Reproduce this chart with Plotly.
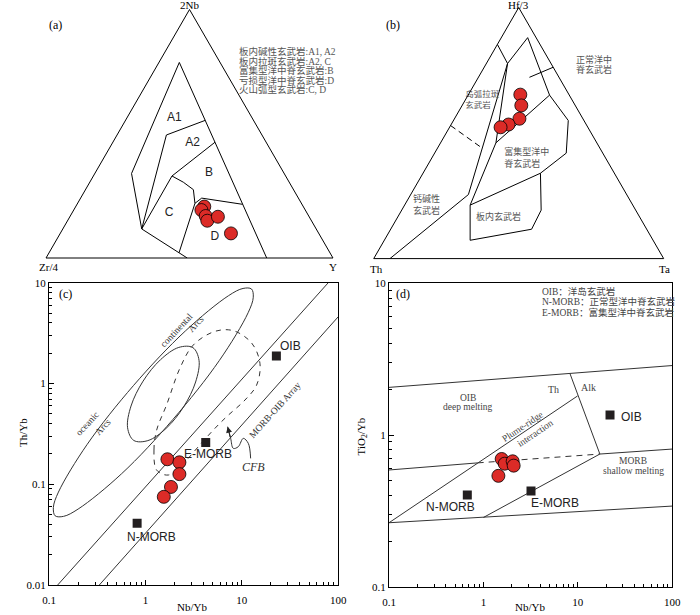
import numpy as np
import plotly.graph_objects as go

W, H = 700, 615
SERIF = "Liberation Serif, Noto Sans CJK SC, serif"
SANS = "Liberation Sans, Arial, sans-serif"
RED = "#dc2b27"
SQ = "#231f20"

# ===================== DATA =====================
# (a) Zr/4 - 2Nb - Y  (percent of the three components)
A_2NB = [20.7, 19.3, 16.9, 15.0, 16.6, 9.9]
A_ZR4 = [34.5, 36.2, 35.9, 36.3, 31.8, 30.6]
A_Y = [44.8, 44.5, 47.2, 48.7, 51.6, 59.5]
# field boundaries of (a): vertices (2Nb, Zr/4, Y)
A_BOUND_RIGHT = [(78.7, 14.2, 7.1), (0.0, 23.1, 76.9)]
A_BOUND_LEFT = [(78.7, 14.2, 7.1), (34.0, 53.2, 12.8), (11.7, 60.8, 27.5), (0.0, 50.8, 49.2)]
A_BOUND_A1A2 = [(49.5, 33.3, 17.2), (55.4, 16.8, 27.8)]
A_BOUND_A1 = [(49.5, 33.3, 17.2), (11.7, 60.8, 27.5)]
A_BOUND_A2B = [(33.0, 39.6, 27.4), (46.6, 17.8, 35.6)]
A_BOUND_C = [(33.0, 39.6, 27.4), (11.7, 60.8, 27.5)]
A_BOUND_CB = [(33.0, 39.6, 27.4), (30.5, 36.9, 32.6), (27.5, 34.9, 37.6), (22.0, 37.1, 40.9)]
A_BOUND_BD = [(22.0, 37.1, 40.9), (24.1, 33.7, 42.2), (21.6, 20.7, 57.7)]
A_BOUND_CD = [(22.0, 37.1, 40.9), (2.1, 52.6, 45.3)]
A_FIELDS = ["A1", "A2", "B", "C", "D"]
A_FIELD_AT = [(56.4, 27.1, 16.5), (46.4, 25.7, 27.9), (34.4, 26.0, 39.6), (18.2, 48.0, 33.8), (8.3, 37.0, 54.7)]
A_LEGEND = ["板内碱性玄武岩:A1, A2", "板内拉斑玄武岩:A2, C", "富集型洋中脊玄武岩:B",
            "亏损型洋中脊玄武岩:D", "火山弧型玄武岩:C, D"]

# (b) Th - Hf/3 - Ta
B_HF3 = [65.3, 61.0, 55.7, 53.4, 52.3]
B_TH = [16.8, 18.6, 21.9, 26.8, 30.1]
B_TA = [17.9, 20.4, 22.4, 19.8, 17.6]
# field boundaries of (b): vertices (Hf/3, Th, Ta)
B_BOUND_CAB = [(0.0, 94.4, 5.6), (25.5, 54.6, 19.9), (77.7, 15.0, 7.3)]
B_BOUND_TOP = [(85.3, 14.7, 0.0), (77.7, 15.0, 7.3)]
B_BOUND_NMORB = [(77.7, 15.0, 7.3), (88.0, 2.9, 9.1), (65.1, 6.8, 28.1), (46.1, 34.8, 19.1), (77.7, 15.0, 7.3)]
B_BOUND_EMORB = [(65.1, 6.8, 28.1), (55.0, 5.4, 39.6), (42.0, 12.6, 45.4), (34.0, 25.5, 40.5)]
B_BOUND_ELEFT = [(46.1, 34.8, 19.1), (21.3, 56.1, 22.6)]
B_BOUND_WPB = [(34.0, 25.5, 40.5), (19.3, 32.6, 48.1), (11.7, 39.7, 48.6), (7.3, 63.1, 29.6),
               (21.3, 56.1, 22.6), (34.0, 25.5, 40.5)]
B_BOUND_DASH = [(53.0, 47.0, 0.0), (44.0, 40.6, 15.4)]
B_LEADER = [(72.2, 10.2, 17.6), (77.7, -3.8, 26.1)]
B_FIELDS = ["岛弧拉斑<br>玄武岩", "富集型洋中<br>脊玄武岩", "钙碱性<br>玄武岩", "板内玄武岩"]
B_FIELD_AT = [(62.9, 37.0, 0.1), (39.9, 35.0, 25.1), (21.1, 75.9, 3.0), (16.1, 56.7, 27.2)]
B_NMORB_LABEL = ["正常洋中", "脊玄武岩"]

# (c) Nb/Yb - Th/Yb
C_NBYB = [1.69, 2.25, 2.25, 1.84, 1.55]
C_THYB = [0.177, 0.165, 0.126, 0.094, 0.075]
REF_NAMES = ["N-MORB", "E-MORB", "OIB"]
C_REF_NBYB = [0.82, 4.22, 22.8]
C_REF_THYB = [0.041, 0.26, 1.87]
C_ARRAY_UP_X = [0.123, 78.7]
C_ARRAY_UP_Y = [0.01, 10.0]
C_ARRAY_LO_X = [0.3325, 100.0]
C_ARRAY_LO_Y = [0.01, 4.6]
C_ARC_BIG_X = [12.59, 13.13, 11.62, 5.85, 1.93, 0.565, 0.2005, 0.1416, 0.1158, 0.111, 0.1253,
               0.249, 0.755, 2.597, 7.27, 10.29, 12.59]
C_ARC_BIG_Y = [8.66, 7.17, 5.04, 1.694, 0.44, 0.1269, 0.0567, 0.048, 0.0486, 0.0588, 0.0836,
               0.2489, 0.958, 3.32, 7.43, 8.77, 8.66]
C_ARC_SMALL_X = [3.105, 3.596, 3.314, 2.485, 1.637, 1.059, 0.7566, 0.6531, 0.7087, 0.9454,
                 1.434, 2.217, 3.105]
C_ARC_SMALL_Y = [2.268, 1.698, 1.034, 0.585, 0.358, 0.2709, 0.2721, 0.3634, 0.5968, 1.0546,
                 1.722, 2.279, 2.268]
C_CFB_X = [1.307, 1.226, 1.307, 1.66, 2.282, 3.136, 5.26, 8.15, 12.63, 15.4, 14.23, 10.77,
           6.95, 5.055, 3.535, 2.471, 1.727, 1.307]
C_CFB_Y = [0.1383, 0.2185, 0.345, 0.6157, 1.423, 2.407, 3.289, 3.339, 2.519, 1.583, 0.9647,
           0.685, 0.468, 0.345, 0.2358, 0.1611, 0.1234, 0.1383]
C_WIGGLE_X = [12.33, 11.66, 10.35, 9.18, 8.15, 7.65, 7.12]
C_WIGGLE_Y = [0.1805, 0.2544, 0.2852, 0.2358, 0.2269, 0.2852, 0.3723]

# (d) Nb/Yb - TiO2/Yb
D_NBYB = [1.56, 1.68, 2.04, 2.09, 1.44]
D_TIYB = [0.695, 0.647, 0.671, 0.628, 0.538]
D_REF_NBYB = [0.675, 3.19, 21.9]
D_REF_TIYB = [0.402, 0.427, 1.354]
D_TOP_X, D_TOP_Y = [0.1, 100.0], [2.06, 2.87]
D_OIBLOW_X, D_OIBLOW_Y = [0.1, 0.869], [0.588, 0.655]
D_DASH_X, D_DASH_Y = [0.869, 17.1], [0.655, 0.749]
D_BOTTOM_X, D_BOTTOM_Y = [0.1, 100.0], [0.264, 0.340]
D_PLUME_X, D_PLUME_Y = [0.1, 9.94], [0.264, 1.81]
D_THALK_X, D_THALK_Y = [8.25, 17.1], [2.54, 0.749]
D_MORBUP_X, D_MORBUP_Y = [17.1, 100.0], [0.749, 0.808]
D_EMORB_X, D_EMORB_Y = [1.0, 17.1], [0.286, 0.749]

# tick labels
X_TICKS = [0.1, 1, 10, 100]
X_TICKTEXT = ["0.1", "1", "10", "100"]
C_Y_TICKS = [0.01, 0.1, 1, 10]
C_Y_TICKTEXT = ["0.01", "0.1", "1", "10"]
D_Y_TICKS = [0.1, 1, 10]
D_Y_TICKTEXT = ["0.1", "1", "10"]

# ===================== FIGURE =====================
fig = go.Figure()


def tline(pts, sub, dash="solid"):
    a, b, c = zip(*pts)
    fig.add_trace(go.Scatterternary(a=a, b=b, c=c, mode="lines", subplot=sub,
                                    line=dict(color="black", width=1, dash=dash),
                                    cliponaxis=False, showlegend=False, hoverinfo="skip"))


for pts in [A_BOUND_RIGHT, A_BOUND_LEFT, A_BOUND_A1A2, A_BOUND_A1, A_BOUND_A2B,
            A_BOUND_C, A_BOUND_CB, A_BOUND_BD, A_BOUND_CD]:
    tline(pts, "ternary")
fig.add_trace(go.Scatterternary(
    a=[p[0] for p in A_FIELD_AT], b=[p[1] for p in A_FIELD_AT], c=[p[2] for p in A_FIELD_AT],
    mode="text", text=A_FIELDS, subplot="ternary", textposition="middle center",
    textfont=dict(family=SANS, size=12, color="#222"), showlegend=False, hoverinfo="skip"))
fig.add_trace(go.Scatterternary(
    a=A_2NB, b=A_ZR4, c=A_Y, mode="markers", subplot="ternary",
    marker=dict(size=13, color=RED, line=dict(color="black", width=0.8)), showlegend=False))

for pts in [B_BOUND_CAB, B_BOUND_TOP, B_BOUND_NMORB, B_BOUND_EMORB, B_BOUND_ELEFT, B_BOUND_WPB,
            B_LEADER]:
    tline(pts, "ternary2")
tline(B_BOUND_DASH, "ternary2", dash="6px,4px")
fig.add_trace(go.Scatterternary(
    a=[p[0] for p in B_FIELD_AT], b=[p[1] for p in B_FIELD_AT], c=[p[2] for p in B_FIELD_AT],
    mode="text", text=B_FIELDS, subplot="ternary2", textposition="middle right", cliponaxis=False,
    textfont=dict(family=SERIF, size=[8.5, 9, 9, 9], color="#555"), showlegend=False, hoverinfo="skip"))
fig.add_trace(go.Scatterternary(
    a=B_HF3, b=B_TH, c=B_TA, mode="markers", subplot="ternary2",
    marker=dict(size=13, color=RED, line=dict(color="black", width=0.8)), showlegend=False))

# (c)
LC = dict(color="#333", width=1)
fig.add_trace(go.Scatter(x=C_ARRAY_UP_X, y=C_ARRAY_UP_Y, mode="lines", line=LC, xaxis="x", yaxis="y"))
fig.add_trace(go.Scatter(x=C_ARRAY_LO_X, y=C_ARRAY_LO_Y, mode="lines", line=LC, xaxis="x", yaxis="y"))
fig.add_trace(go.Scatter(x=C_ARC_BIG_X, y=C_ARC_BIG_Y, mode="lines",
                         line=dict(color="#333", width=1, shape="spline", smoothing=1.0), xaxis="x", yaxis="y"))
fig.add_trace(go.Scatter(x=C_ARC_SMALL_X, y=C_ARC_SMALL_Y, mode="lines",
                         line=dict(color="#333", width=1, shape="spline", smoothing=1.0), xaxis="x", yaxis="y"))
fig.add_trace(go.Scatter(x=C_CFB_X, y=C_CFB_Y, mode="lines",
                         line=dict(color="#333", width=1, shape="spline", smoothing=1.0, dash="5px,5px"),
                         xaxis="x", yaxis="y"))
fig.add_trace(go.Scatter(x=C_WIGGLE_X, y=C_WIGGLE_Y, mode="lines",
                         line=dict(color="#333", width=1, shape="spline", smoothing=1.0), xaxis="x", yaxis="y"))
fig.add_trace(go.Scatter(x=C_REF_NBYB, y=C_REF_THYB, mode="markers", xaxis="x", yaxis="y",
                         marker=dict(symbol="square", size=9, color=SQ)))
fig.add_trace(go.Scatter(x=C_NBYB, y=C_THYB, mode="markers", xaxis="x", yaxis="y",
                         marker=dict(size=13, color=RED, line=dict(color="black", width=0.8))))

# (d)
for xs, ys in [(D_TOP_X, D_TOP_Y), (D_OIBLOW_X, D_OIBLOW_Y), (D_BOTTOM_X, D_BOTTOM_Y),
               (D_PLUME_X, D_PLUME_Y), (D_THALK_X, D_THALK_Y), (D_MORBUP_X, D_MORBUP_Y),
               (D_EMORB_X, D_EMORB_Y)]:
    fig.add_trace(go.Scatter(x=xs, y=ys, mode="lines", line=LC, xaxis="x2", yaxis="y2"))
fig.add_trace(go.Scatter(x=D_DASH_X, y=D_DASH_Y, mode="lines", line=dict(color="#333", width=1, dash="6px,5px"),
                         xaxis="x2", yaxis="y2"))
fig.add_trace(go.Scatter(x=D_REF_NBYB, y=D_REF_TIYB, mode="markers", xaxis="x2", yaxis="y2",
                         marker=dict(symbol="square", size=9, color=SQ)))
fig.add_trace(go.Scatter(x=D_NBYB, y=D_TIYB, mode="markers", xaxis="x2", yaxis="y2",
                         marker=dict(size=13, color=RED, line=dict(color="black", width=0.8))))

# ---------- axes ----------
TAX = dict(showline=True, linecolor="black", linewidth=1, showgrid=False, ticks="",
           showticklabels=False, min=0, title=dict(text=""))

MINOR_VALS = [m * 10.0 ** e for e in range(-2, 2) for m in range(2, 10)]


def logaxis(domain, rng, tickvals, ticktext, anchor):
    return dict(type="log", domain=domain, range=rng, anchor=anchor,
                showgrid=False, zeroline=False, showline=True, linecolor="black", linewidth=1,
                mirror=True, ticks="inside", ticklen=5, tickwidth=1, tickcolor="black",
                tickmode="array", tickvals=tickvals, ticktext=ticktext,
                tickfont=dict(family=SERIF, size=11, color="black"),
                minor=dict(ticks="inside", ticklen=3, tickwidth=1, tickcolor="black",
                           tickmode="array", tickvals=MINOR_VALS, showgrid=False))


xa = logaxis([49 / W, 338.3 / W], [-1, 2], X_TICKS, X_TICKTEXT, "y")
xa["ticklabelstandoff"] = 5
ya = logaxis([1 - 585 / H, 1 - 282.7 / H], [-2, 1], C_Y_TICKS, C_Y_TICKTEXT, "x")
xa2 = logaxis([389 / W, 672.3 / W], [-1, 2], X_TICKS, X_TICKTEXT, "y2")
xa2["ticklabelstandoff"] = 5
ya2 = logaxis([1 - 586.7 / H, 1 - 283.3 / H], [-1, 1], D_Y_TICKS, D_Y_TICKTEXT, "x2")


def ann(text, x, y, size=11, family=SERIF, color="black", angle=0, xanchor="center"):
    return dict(text=text, x=x / W, y=1 - y / H, xref="paper", yref="paper", showarrow=False,
                xanchor=xanchor, yanchor="middle", textangle=angle,
                font=dict(family=family, size=size, color=color))


anns = [
    ann("(a)", 55, 25, 12), ann("2Nb", 190, 4.5), ann("Zr/4", 48, 267), ann("Y", 333, 267),
    ann("(b)", 393.3, 25, 12), ann("Hf/3", 518.7, 4.5), ann("Th", 376, 269), ann("Ta", 664, 269),
    ann("(c)", 65, 294, 12), ann("(d)", 403.3, 294, 12),
    ann("Th/Yb", 23, 433, angle=-90), ann("Nb/Yb", 191.7, 607),
    ann("TiO<sub>2</sub>/Yb", 361.7, 436.7, angle=-90), ann("Nb/Yb", 530, 607),
    # (b) label outside the triangle
    ann(B_NMORB_LABEL[0], 574, 60, 9, color="#555", xanchor="left"),
    ann(B_NMORB_LABEL[1], 574, 70, 9, color="#555", xanchor="left"),
    # (c) labels
    ann("oceanic", 87, 424, 9.5, color="#333", angle=-47),
    ann("Arcs", 103, 427, 9.5, color="#333", angle=-47),
    ann("continental", 176.7, 329.7, 9.5, color="#333", angle=-47),
    ann("Arcs", 196, 324, 9.5, color="#333", angle=-47),
    ann("MORB-OIB Array", 275, 409.7, 9.5, color="#333", angle=-48),
    ann("<i>CFB</i>", 253.3, 466.7, 12, color="#333"),
    ann("OIB", 290, 346, 12, SANS, "#222"), ann("E-MORB", 208, 454.3, 12, SANS, "#222"),
    ann("N-MORB", 151.7, 537.3, 12, SANS, "#222"),
    # (d) labels
    ann("Th", 553.5, 389, 10, color="#444"), ann("Alk", 588, 387.3, 10, color="#444"),
    ann("OIB", 468, 397.5, 9.5, color="#444"), ann("deep melting", 468, 407, 9.5, color="#444"),
    ann("Plume-ridge", 522, 426.7, 9.5, color="#444", angle=-34),
    ann("interaction", 535.7, 433.3, 9.5, color="#444", angle=-34),
    ann("MORB", 633.3, 461, 9.5, color="#444"), ann("shallow melting", 633.3, 470.5, 9.5, color="#444"),
    ann("OIB", 631, 416.7, 12, SANS, "#222"), ann("N-MORB", 450.7, 506.7, 12, SANS, "#222"),
    ann("E-MORB", 555, 503.3, 12, SANS, "#222"),
]
for i, t in enumerate(A_LEGEND):
    anns.append(ann(t, 237, 51.7 + 9.5 * i, 9.5, color="#555", xanchor="left"))
D_LEGEND = ["OIB：洋岛玄武岩", "N-MORB：正常型洋中脊玄武岩", "E-MORB：富集型洋中脊玄武岩"]
for i, t in enumerate(D_LEGEND):
    anns.append(ann(t, 540, 291.7 + 10.3 * i, 9.5, color="#444", xanchor="left"))

# CFB arrow head
anns.append(dict(x=np.log10(C_WIGGLE_X[-1]), y=np.log10(C_WIGGLE_Y[-1]), xref="x", yref="y",
                 ax=3, ay=12, showarrow=True, arrowhead=2, arrowsize=1.2, arrowwidth=1,
                 arrowcolor="#222", text=""))

fig.update_layout(
    width=W, height=H, margin=dict(l=0, r=0, t=0, b=0), template="none",
    paper_bgcolor="white", plot_bgcolor="white", showlegend=False,
    ternary=dict(domain=dict(x=[46 / W, 333 / W], y=[1 - 258 / H, 1 - 9.5 / H]), sum=100,
                 bgcolor="white", aaxis=TAX, baxis=TAX, caxis=TAX),
    ternary2=dict(domain=dict(x=[373.7 / W, 663.7 / W], y=[1 - 258.6 / H, 1 - 7.5 / H]), sum=100,
                  bgcolor="white", aaxis=TAX, baxis=TAX, caxis=TAX),
    xaxis=xa, yaxis=ya, xaxis2=xa2, yaxis2=ya2,
    annotations=anns,
)

fig.write_html("out.html", config={"displayModeBar": False},
               post_script="document.body.style.margin='0';document.body.style.overflow='hidden';")
